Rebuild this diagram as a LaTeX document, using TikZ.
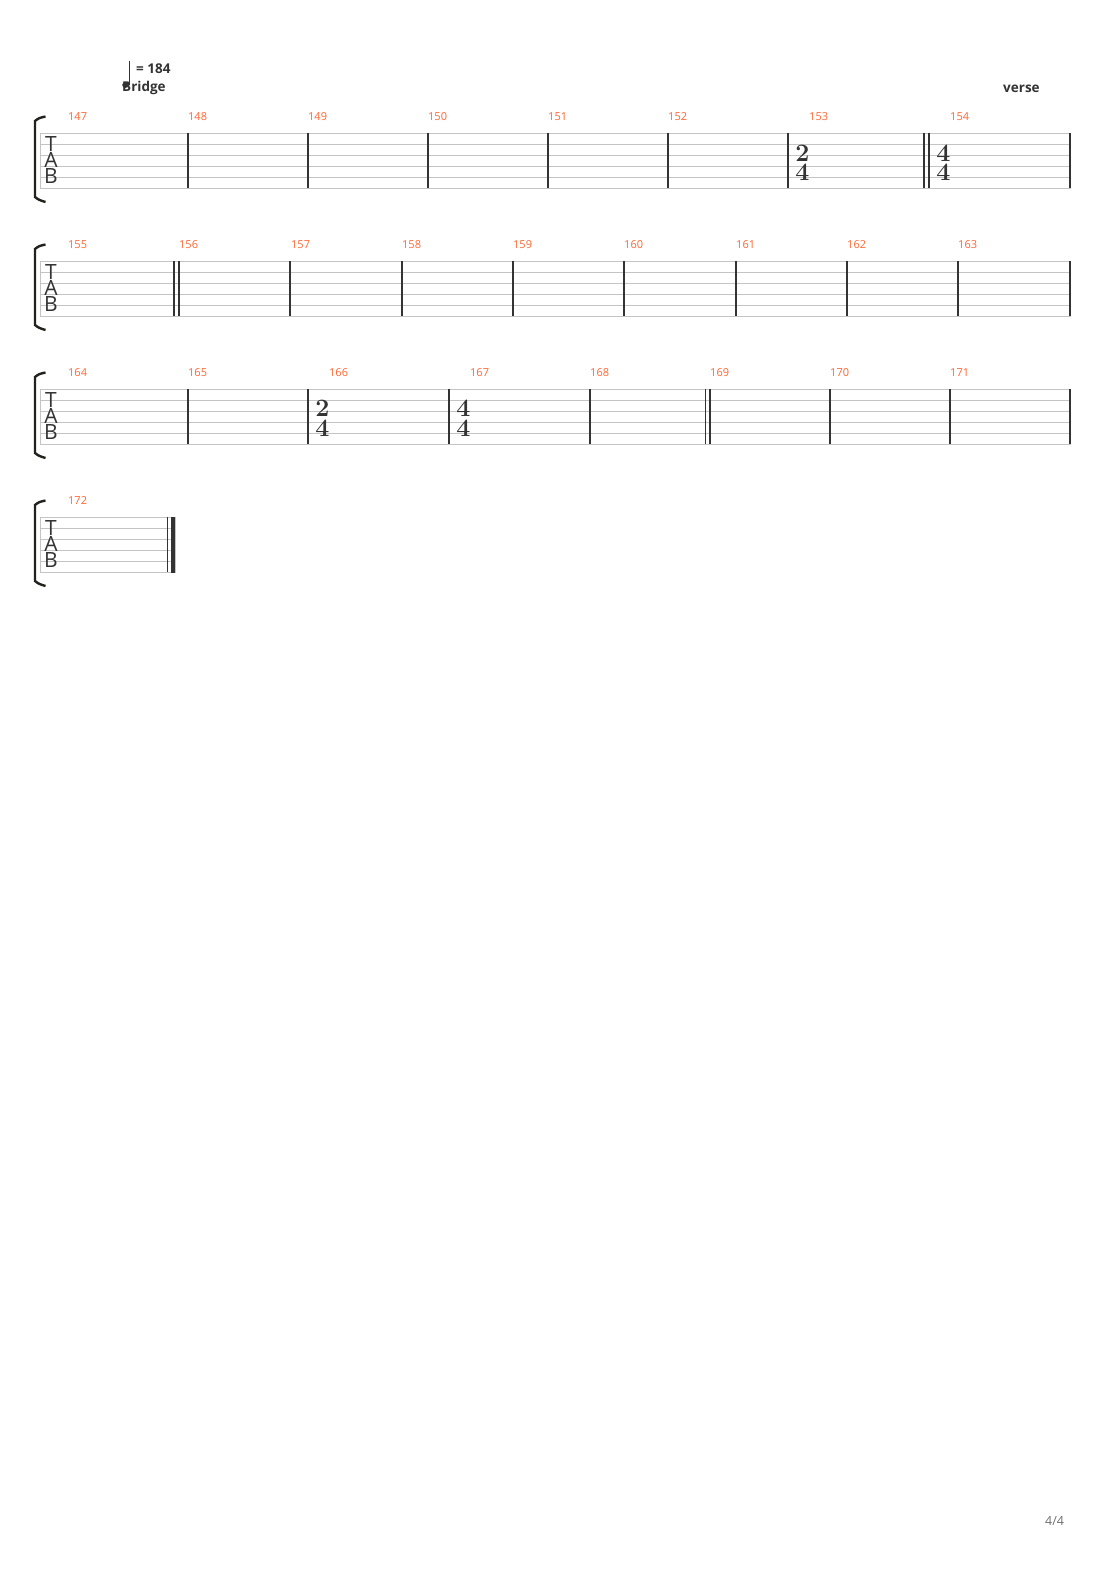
\documentclass[tikz,border=0pt]{standalone}
\usepackage{fontspec}
\newfontfamily\tabfont{Open Sans}
\usepackage{xcolor}
\usepackage{tikz}

\definecolor{barnum}{HTML}{FF6633}
\definecolor{staffgray}{HTML}{C4C4C4}
\definecolor{ink}{HTML}{333333}
\definecolor{brackink}{HTML}{22221A}
\definecolor{pagegray}{HTML}{707070}

\tikzset{
  staffline/.style={staffgray, line width=0.9pt},
  barline/.style={ink, line width=1.2pt},
  bracket/.style={brackink, line width=2.4pt},
  measnum/.style={anchor=west, inner sep=0pt, text=barnum, font=\tabfont\fontsize{11}{12}\selectfont},
  tsdigit/.style={inner sep=0pt, text=ink, font=\bfseries\fontsize{25}{25}\selectfont},
  tabclef/.style={anchor=north, inner sep=0pt, align=center, text=ink, font=\tabfont\fontsize{21}{15.6}\selectfont},
  marker/.style={anchor=base west, inner sep=0pt, text=ink, font=\tabfont\bfseries\fontsize{13.5}{15}\selectfont},
}

\begin{document}
\begin{tikzpicture}[x=1pt,y=-1pt]
\useasboundingbox (0,0) rectangle (1110,1570);
\fill[white] (0,0) rectangle (1110,1570);

\fill[ink] (125.5,85) ellipse (3.3 and 2.9);
\draw[ink, line width=0.9pt] (129.5,61) -- (129.5,84.5);
\node[marker] (tempo) at (136,73.5) {= \textbf{184}};
\node[marker] (bridge) at (122,92) {Bridge};
\node[marker] (verse) at (1003,92.5) {verse};

\draw[bracket] (45.5,116.5) .. controls (39,118) .. (35,121) -- (35,197) .. controls (39,200) .. (45.5,202);
\draw[staffline] (40,133) rectangle (1070,188);
\draw[staffline] (40,144) -- (1070,144);
\draw[staffline] (40,155) -- (1070,155);
\draw[staffline] (40,166) -- (1070,166);
\draw[staffline] (40,177) -- (1070,177);
\node[tabclef] (tab1) at (51,136.7) {T\\A\\B};

\draw[barline] (188,133) -- (188,188);
\draw[barline] (308,133) -- (308,188);
\draw[barline] (428,133) -- (428,188);
\draw[barline] (548,133) -- (548,188);
\draw[barline] (668,133) -- (668,188);
\draw[barline] (788,133) -- (788,188);
\draw[barline] (924,133) -- (924,188);
\draw[barline] (929,133) -- (929,188);
\draw[barline] (1070,133) -- (1070,188);

\node[tsdigit] (ts153a) at (802.5,153) {2};
\node[tsdigit] (ts153b) at (802.5,172) {4};
\node[tsdigit] (ts154a) at (943.5,153) {4};
\node[tsdigit] (ts154b) at (943.5,172) {4};

\node[measnum] (m147) at (68,117) {147};
\node[measnum] (m148) at (188,117) {148};
\node[measnum] (m149) at (308,117) {149};
\node[measnum] (m150) at (428,117) {150};
\node[measnum] (m151) at (548,117) {151};
\node[measnum] (m152) at (668,117) {152};
\node[measnum] (m153) at (809,117) {153};
\node[measnum] (m154) at (950,117) {154};

\draw[bracket] (45.5,244.5) .. controls (39,246) .. (35,249) -- (35,325) .. controls (39,328) .. (45.5,330);
\draw[staffline] (40,261) rectangle (1070,316);
\draw[staffline] (40,272) -- (1070,272);
\draw[staffline] (40,283) -- (1070,283);
\draw[staffline] (40,294) -- (1070,294);
\draw[staffline] (40,305) -- (1070,305);
\node[tabclef] (tab2) at (51,264.7) {T\\A\\B};

\draw[barline] (174,261) -- (174,316);
\draw[barline] (179,261) -- (179,316);
\draw[barline] (290,261) -- (290,316);
\draw[barline] (402,261) -- (402,316);
\draw[barline] (513,261) -- (513,316);
\draw[barline] (624,261) -- (624,316);
\draw[barline] (736,261) -- (736,316);
\draw[barline] (847,261) -- (847,316);
\draw[barline] (958,261) -- (958,316);
\draw[barline] (1070,261) -- (1070,316);

\node[measnum] (m155) at (68,245) {155};
\node[measnum] (m156) at (179,245) {156};
\node[measnum] (m157) at (291,245) {157};
\node[measnum] (m158) at (402,245) {158};
\node[measnum] (m159) at (513,245) {159};
\node[measnum] (m160) at (624,245) {160};
\node[measnum] (m161) at (736,245) {161};
\node[measnum] (m162) at (847,245) {162};
\node[measnum] (m163) at (958,245) {163};

\draw[bracket] (45.5,372.5) .. controls (39,374) .. (35,377) -- (35,453) .. controls (39,456) .. (45.5,458);
\draw[staffline] (40,389) rectangle (1070,444);
\draw[staffline] (40,400) -- (1070,400);
\draw[staffline] (40,411) -- (1070,411);
\draw[staffline] (40,422) -- (1070,422);
\draw[staffline] (40,433) -- (1070,433);
\node[tabclef] (tab3) at (51,392.7) {T\\A\\B};

\draw[barline] (188,389) -- (188,444);
\draw[barline] (308,389) -- (308,444);
\draw[barline] (449,389) -- (449,444);
\draw[barline] (590,389) -- (590,444);
\draw[barline] (705.5,389) -- (705.5,444);
\draw[barline] (710,389) -- (710,444);
\draw[barline] (830,389) -- (830,444);
\draw[barline] (950,389) -- (950,444);
\draw[barline] (1070,389) -- (1070,444);

\node[tsdigit] (ts166a) at (322.5,408) {2};
\node[tsdigit] (ts166b) at (322.5,428.5) {4};
\node[tsdigit] (ts167a) at (463.5,408) {4};
\node[tsdigit] (ts167b) at (463.5,428.5) {4};

\node[measnum] (m164) at (68,373) {164};
\node[measnum] (m165) at (188,373) {165};
\node[measnum] (m166) at (329,373) {166};
\node[measnum] (m167) at (470,373) {167};
\node[measnum] (m168) at (590,373) {168};
\node[measnum] (m169) at (710,373) {169};
\node[measnum] (m170) at (830,373) {170};
\node[measnum] (m171) at (950,373) {171};

\draw[bracket] (45.5,500.5) .. controls (39,502) .. (35,505) -- (35,581) .. controls (39,584) .. (45.5,586);
\draw[staffline] (40,517) rectangle (175,572);
\draw[staffline] (40,528) -- (175,528);
\draw[staffline] (40,539) -- (175,539);
\draw[staffline] (40,550) -- (175,550);
\draw[staffline] (40,561) -- (175,561);
\node[tabclef] (tab4) at (51,520.7) {T\\A\\B};

\draw[barline] (167.5,517) -- (167.5,572);
\fill[ink] (171,516.5) rectangle (175,572.5);

\node[measnum] (m172) at (68,501) {172};

\node[anchor=base west, inner sep=0pt, text=pagegray, font=\tabfont\fontsize{12.5}{14}\selectfont] (page) at (1045,1525) {4/4};
\end{tikzpicture}
\end{document}
